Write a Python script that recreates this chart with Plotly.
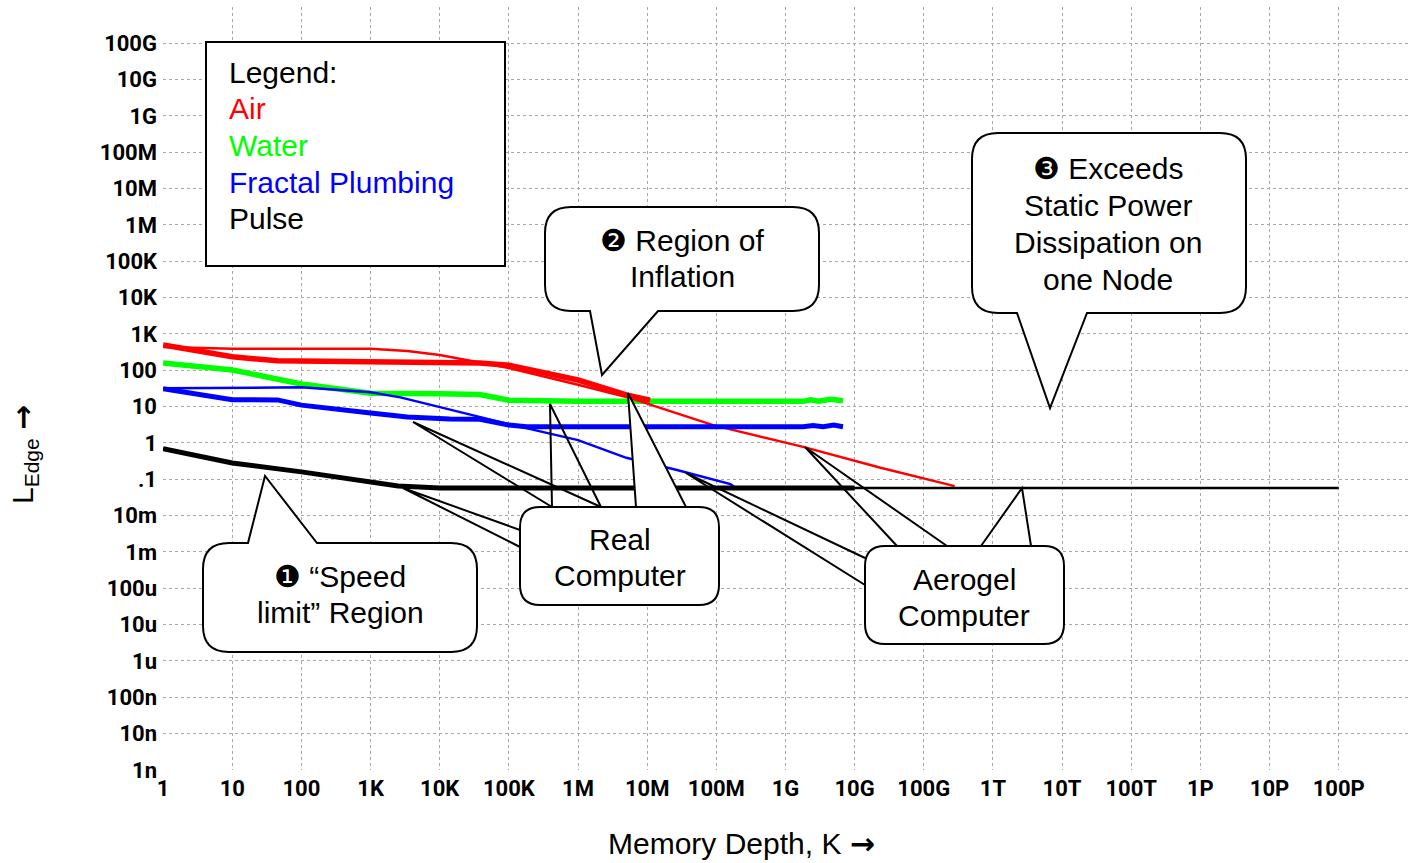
import plotly.graph_objects as go

# ---- data: memory depth K (x) versus edge length L_Edge (y) ----
# thick traces = real computer, thin traces = aerogel computer
air_real_k = [1, 10, 45, 3.4e3, 3.8e4, 1e5, 1e6, 5e6, 1.1e7]
air_real_l = [500, 235, 182, 172, 158, 138, 54, 21, 15]

air_gel_k = [1, 10, 1e3, 3.4e3, 1e4, 1e5, 1e6, 5e6, 9e7, 1.8e9, 2.3e10, 2.8e11]
air_gel_l = [440, 390, 390, 340, 265, 116, 40, 18.5, 3.1, 0.78, 0.21, 0.065]

water_real_k = [1, 10, 100, 1e3, 1e4, 3.8e4, 1e5, 1e6, 1.8e9, 2.3e9, 3e9, 4.5e9, 6.8e9]
water_real_l = [160, 102, 42, 23.5, 22.5, 21.5, 15, 14, 14, 15.5, 14.2, 16, 14.5]

fractal_real_k = [1, 10, 45, 100, 1e3, 3.4e3, 1.4e4, 3.8e4, 1e5, 1.8e5, 1.8e9, 2.5e9, 3.5e9, 5e9, 6.8e9]
fractal_real_l = [31, 15.5, 15.3, 11, 6.7, 5.2, 4.6, 4.5, 3.1, 2.8, 2.8, 3.0, 2.8, 3.1, 2.8]

fractal_gel_k = [1, 100, 1e3, 2.7e3, 1e5, 1e6, 5e6, 2.7e7, 1.6e8, 1.8e8]
fractal_gel_l = [32, 34, 25, 18, 3.3, 1.2, 0.39, 0.18, 0.074, 0.062]

pulse_real_k = [1, 10, 100, 1e3, 2.5e3, 1e4, 1e10]
pulse_real_l = [0.69, 0.28, 0.16, 0.08, 0.065, 0.058, 0.058]

pulse_gel_k = [1, 10, 100, 1e3, 2.5e3, 1e4, 1e17]
pulse_gel_l = [0.69, 0.28, 0.16, 0.08, 0.065, 0.058, 0.058]

# ---- tick labels ----
x_exps = list(range(0, 19))
x_labels = ["1", "10", "100", "1K", "10K", "100K", "1M", "10M", "100M", "1G",
            "10G", "100G", "1T", "10T", "100T", "1P", "10P", "100P", "1E"]
y_exps = list(range(-9, 13))
y_labels = ["1n", "10n", "100n", "1u", "10u", "100u", "1m", "10m", ".1", "1",
            "10", "100", "1K", "10K", "100K", "1M", "10M", "100M", "1G", "10G",
            "100G", "1T"]

# ---- page geometry ----
W, H = 1416, 863
ML, MR, MT, MB = 163, 8, 7, 93
PW, PH = W - ML - MR, H - MT - MB


def fx(px):
    return (px - ML) / PW


def fy(py):
    return (H - MB - py) / PH


def path(segs):
    out = []
    for seg in segs:
        cmd, pts = seg[0], seg[1:]
        out.append(cmd + " ".join(f"{fx(a):.5f},{fy(b):.5f}" for a, b in pts))
    return " ".join(out)


def bubble(x0, y0, x1, y1, r, pointer=None):
    segs = [("M", (x0 + r, y0))]
    if pointer and pointer[0] == "top":
        _, bl, tx, ty, br = pointer
        segs += [("L", (bl, y0)), ("L", (tx, ty)), ("L", (br, y0))]
    segs += [("L", (x1 - r, y0)), ("Q", (x1, y0), (x1, y0 + r)),
             ("L", (x1, y1 - r)), ("Q", (x1, y1), (x1 - r, y1))]
    if pointer and pointer[0] == "bottom":
        _, bl, tx, ty, br = pointer
        segs += [("L", (br, y1)), ("L", (tx, ty)), ("L", (bl, y1))]
    segs += [("L", (x0 + r, y1)), ("Q", (x0, y1), (x0, y1 - r)),
             ("L", (x0, y0 + r)), ("Q", (x0, y0), (x0 + r, y0))]
    return path(segs) + " Z"


def wedge(b1, tip, b2, closed=False):
    p = path([("M", b1), ("L", tip), ("L", b2)])
    return p + (" Z" if closed else "")


fig = go.Figure()

series = [
    (water_real_k, water_real_l, "#00ff00", 5.5),
    (air_real_k, air_real_l, "#ff0000", 5.5),
    (air_gel_k, air_gel_l, "#ff0000", 2.5),
    (fractal_real_k, fractal_real_l, "#0000ff", 5),
    (fractal_gel_k, fractal_gel_l, "#0000ff", 2.5),
    (pulse_gel_k, pulse_gel_l, "#000000", 2.5),
    (pulse_real_k, pulse_real_l, "#000000", 5),
]
for k, l, c, w in series:
    fig.add_trace(go.Scatter(x=k, y=l, mode="lines",
                             line=dict(color=c, width=w),
                             hoverinfo="skip", showlegend=False))

line_k = dict(color="black", width=2)
shapes = []

# pointer wedges towards the real-computer curves
for b1, tip, b2, closed in [
    ((520, 530), (403, 488), (520, 547), False),
    ((552, 507), (413, 422), (601, 507), False),
    ((552, 507), (550, 404), (601, 507), False),
    ((636, 507), (628, 393), (686, 507), True),
]:
    shapes.append(dict(type="path", path=wedge(b1, tip, b2, closed),
                       xref="paper", yref="paper", layer="above",
                       line=line_k,
                       fillcolor="white" if closed else "rgba(0,0,0,0)"))

# pointer wedges towards the aerogel curves
for b1, tip, b2 in [
    ((865, 558), (686, 473), (865, 585)),
    ((897, 546), (805, 447), (947, 546)),
    ((981, 546), (1022, 488), (1031, 546)),
]:
    shapes.append(dict(type="path", path=wedge(b1, tip, b2),
                       xref="paper", yref="paper", layer="above",
                       line=line_k, fillcolor="rgba(0,0,0,0)"))

# callout bubbles
for x0, y0, x1, y1, r, ptr in [
    (203, 543, 477, 652, 26, ("top", 248, 265, 476, 317)),
    (545, 207, 819, 311, 26, ("bottom", 590, 602, 375, 658)),
    (972, 133, 1246, 313, 26, ("bottom", 1017, 1050, 408, 1087)),
    (520, 507, 719, 605, 20, None),
    (865, 546, 1064, 644, 20, None),
]:
    shapes.append(dict(type="path", path=bubble(x0, y0, x1, y1, r, ptr),
                       xref="paper", yref="paper", layer="above",
                       line=line_k, fillcolor="white"))

# legend box
shapes.append(dict(type="rect", xref="paper", yref="paper", layer="above",
                   x0=fx(206), x1=fx(505), y0=fy(266), y1=fy(42),
                   line=line_k, fillcolor="white"))

TEXT_FONT = "Arial, Liberation Sans, sans-serif"
LINE_GAP = 36.7
annotations = []


def note(px, py, text, size=30, color="black", xanchor="center", angle=0):
    annotations.append(dict(x=fx(px), y=fy(py), xref="paper", yref="paper",
                            text=text, showarrow=False, xanchor=xanchor,
                            yanchor="middle", textangle=angle,
                            font=dict(family=TEXT_FONT, size=size, color=color)))


def note_lines(px, py_first, lines, colors=None, xanchor="center"):
    for i, t in enumerate(lines):
        c = colors[i] if colors else "black"
        note(px, py_first + i * LINE_GAP, t, color=c, xanchor=xanchor)


note_lines(227, 72, ["Legend:", "Air", "Water", "Fractal Plumbing", "Pulse"],
           colors=["black", "#ff0000", "#00ff00", "#0000ff", "black"],
           xanchor="left")
note_lines(340, 576, ["\u2776 \u201cSpeed", "limit\u201d Region"])
note_lines(682, 240, ["\u2777 Region of", "Inflation"])
note_lines(1108, 169, ["\u2778 Exceeds", "Static Power", "Dissipation on", "one Node"])
note_lines(620, 539, ["Real", "Computer"])
note_lines(964, 579, ["Aerogel", "Computer"])

ARROW = "<span style='font-family:DejaVu Sans;font-weight:bold'>\u2192</span>"
note(741, 843, "Memory Depth, K " + ARROW)
note(24, 455, "L<sub>Edge</sub> " + ARROW, angle=-90)

TICK_FONT = dict(family="Roboto, sans-serif", size=22, color="black", weight="bold")
grid = dict(showgrid=True, gridcolor="#a8a8a8", griddash="dot", gridwidth=1,
            zeroline=False, showline=False, ticks="", tickfont=TICK_FONT)

fig.update_layout(
    width=W, height=H,
    margin=dict(l=ML, r=MR, t=MT, b=MB),
    paper_bgcolor="white", plot_bgcolor="white",
    showlegend=False,
    xaxis=dict(type="log", range=[-0.002, 18.003],
               tickmode="array", tickvals=[10.0 ** e for e in x_exps],
               ticktext=x_labels, ticklabelstandoff=3, **grid),
    yaxis=dict(type="log", range=[-9.002, 12],
               tickmode="array", tickvals=[10.0 ** e for e in y_exps],
               ticktext=y_labels, ticklabelstandoff=5, **grid),
    shapes=shapes,
    annotations=annotations,
)

fig.write_html("out.html")
